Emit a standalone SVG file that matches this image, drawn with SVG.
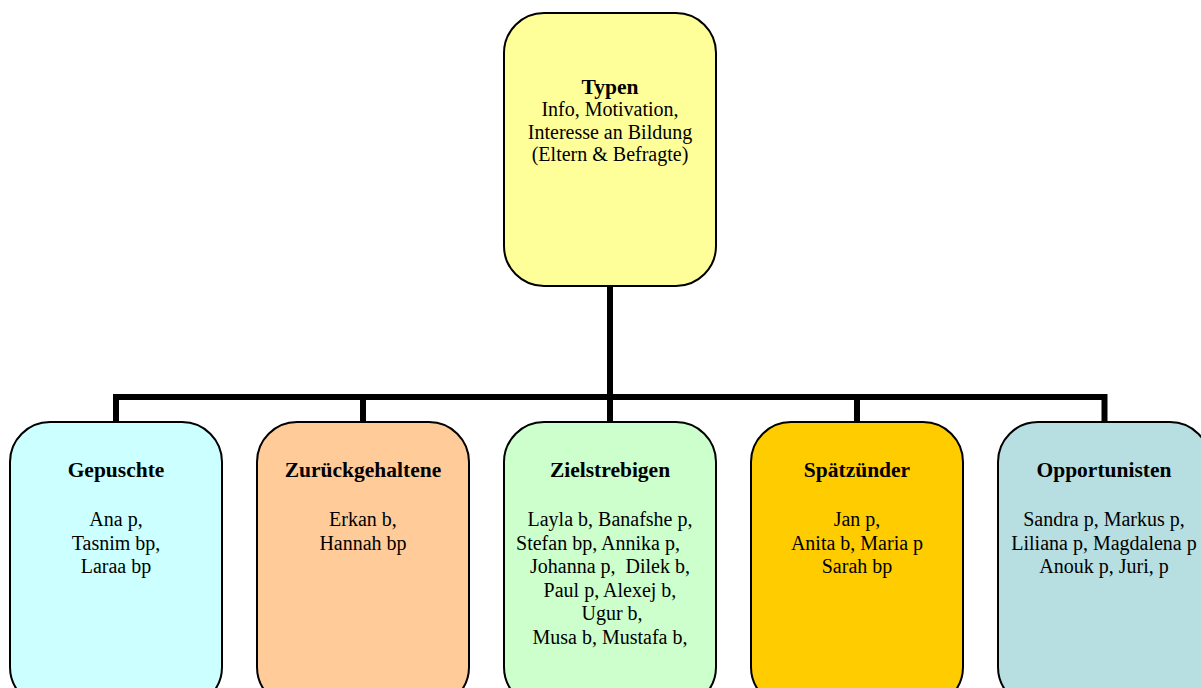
<svg xmlns="http://www.w3.org/2000/svg" width="1201" height="688" viewBox="0 0 1201 688">
  <style>
    .box { stroke: #000; stroke-width: 2; }
    .wire { fill: none; stroke: #000; stroke-width: 6; }
    text { font-family: "Liberation Serif", "Times New Roman", serif; font-size: 20px; fill: #000; text-anchor: middle; white-space: pre; }
    .title { font-weight: bold; font-size: 21.5px; }
  </style>

  <g id="connectors">
    <path class="wire" d="M610,286 V400"/>
    <path class="wire" d="M116,424 V397 H1104.5 V424"/>
    <path class="wire" d="M363,397 V424"/>
    <path class="wire" d="M610,397 V424"/>
    <path class="wire" d="M857,397 V424"/>
  </g>

  <g id="typen">
    <rect class="box" x="504" y="13" width="212" height="273" rx="40" ry="40" fill="#FFFF99"/>
    <text x="610" y="93.5" class="title">Typen</text>
    <text x="610" y="116">Info, Motivation,</text>
    <text x="610" y="138.5">Interesse an Bildung</text>
    <text x="610" y="161">(Eltern &amp; Befragte)</text>
  </g>

  <g id="gepuschte">
    <rect class="box" x="10" y="422" width="212" height="285" rx="40" ry="40" fill="#CCFFFF"/>
    <text x="116" y="476.5" class="title">Gepuschte</text>
    <text x="116" y="526">Ana p,</text>
    <text x="116" y="549.5">Tasnim bp,</text>
    <text x="116" y="573">Laraa bp</text>
  </g>

  <g id="zurueckgehaltene">
    <rect class="box" x="257" y="422" width="212" height="285" rx="40" ry="40" fill="#FFCC99"/>
    <text x="363" y="476.5" class="title">Zurückgehaltene</text>
    <text x="363" y="526">Erkan b,</text>
    <text x="363" y="549.5">Hannah bp</text>
  </g>

  <g id="zielstrebigen">
    <rect class="box" x="504" y="422" width="212" height="285" rx="40" ry="40" fill="#CCFFCC"/>
    <text x="610" y="476.5" class="title">Zielstrebigen</text>
    <text x="610" y="526">Layla b, Banafshe p,</text>
    <text x="598" y="549.5">Stefan bp, Annika p,</text>
    <text x="610" y="573">Johanna p,  Dilek b,</text>
    <text x="610" y="596.5">Paul p, Alexej b,</text>
    <text x="612" y="620">Ugur b,</text>
    <text x="610" y="643.5">Musa b, Mustafa b,</text>
  </g>

  <g id="spaetzuender">
    <rect class="box" x="751" y="422" width="212" height="285" rx="40" ry="40" fill="#FFCC00"/>
    <text x="857" y="476.5" class="title">Spätzünder</text>
    <text x="857" y="526">Jan p,</text>
    <text x="857" y="549.5">Anita b, Maria p</text>
    <text x="857" y="573">Sarah bp</text>
  </g>

  <g id="opportunisten">
    <rect class="box" x="998" y="422" width="212" height="285" rx="40" ry="40" fill="#B7DFE1"/>
    <text x="1104" y="476.5" class="title">Opportunisten</text>
    <text x="1104" y="526">Sandra p, Markus p,</text>
    <text x="1104" y="549.5">Liliana p, Magdalena p</text>
    <text x="1104" y="573">Anouk p, Juri, p</text>
  </g>
</svg>
